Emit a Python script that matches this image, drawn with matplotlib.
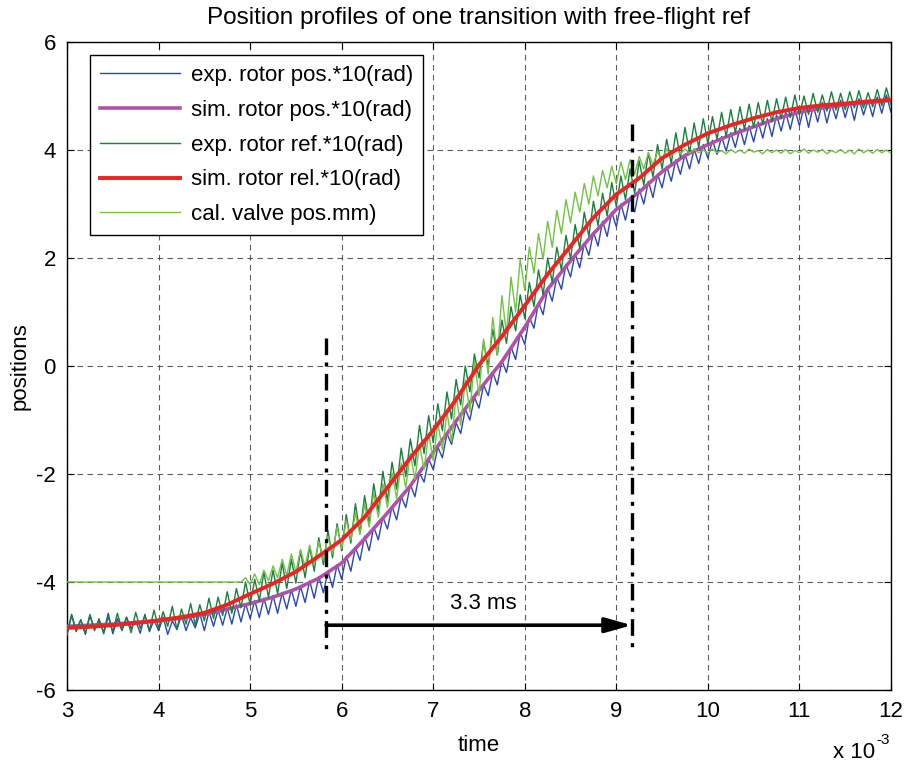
import numpy as np
import matplotlib
matplotlib.use("Agg")
import matplotlib.pyplot as plt

plt.rcParams['font.family'] = ['Liberation Sans', 'DejaVu Sans']
plt.rcParams['axes.unicode_minus'] = False

# time axis in units of 1e-3 s
t_sim = np.round(np.arange(3.0, 12.001, 0.25), 2)
t_lo = np.round(np.arange(3.0, 12.001, 0.1), 2)
t_hi = np.round(np.arange(3.05, 11.96, 0.1), 2)

sim_pos = [-4.82, -4.80, -4.78, -4.75, -4.72, -4.67, -4.60, -4.50, -4.40, -4.28,
           -4.13, -3.93, -3.65, -3.20, -2.72, -2.22, -1.60, -1.02, -0.45, 0.08,
           0.72, 1.42, 1.95, 2.45, 2.90, 3.22, 3.60, 3.90, 4.10, 4.28,
           4.43, 4.58, 4.70, 4.78, 4.84, 4.88, 4.92]
sim_rel = [-4.85, -4.83, -4.80, -4.76, -4.71, -4.65, -4.57, -4.42, -4.22, -4.03,
           -3.81, -3.52, -3.22, -2.80, -2.25, -1.70, -1.19, -0.62, 0.02, 0.55,
           1.12, 1.70, 2.22, 2.75, 3.18, 3.48, 3.85, 4.10, 4.31, 4.46,
           4.59, 4.70, 4.78, 4.83, 4.86, 4.90, 4.93]

# experimental rotor position: lower spikes (t_lo) and upper spikes (t_hi)
exp_pos_lo = [-4.95, -4.90, -4.97, -4.88, -4.93, -4.96, -4.90, -4.86, -4.95, -4.92,
              -4.90, -4.97, -4.88, -4.90, -4.85, -4.90, -4.82, -4.80, -4.78, -4.74,
              -4.68, -4.66, -4.60, -4.58, -4.50, -4.45, -4.38, -4.30, -4.20, -4.10,
              -3.95, -3.80, -3.60, -3.42, -3.22, -3.02, -2.85, -2.62, -2.42, -2.15,
              -1.92, -1.70, -1.45, -1.25, -1.00, -0.78, -0.55, -0.35, -0.12, 0.12,
              0.40, 0.70, 0.95, 1.20, 1.42, 1.65, 1.82, 2.05, 2.22, 2.40,
              2.58, 2.70, 2.85, 3.00, 3.12, 3.30, 3.42, 3.55, 3.65, 3.75,
              3.85, 3.92, 3.98, 4.05, 4.10, 4.15, 4.22, 4.25, 4.35, 4.38,
              4.45, 4.42, 4.52, 4.50, 4.58, 4.60, 4.55, 4.65, 4.62, 4.68, 4.70]
exp_pos_hi = [-4.60, -4.70, -4.62, -4.72, -4.58, -4.68, -4.65, -4.72, -4.60, -4.70,
              -4.65, -4.72, -4.62, -4.66, -4.58, -4.55, -4.52, -4.48, -4.42, -4.40,
              -4.34, -4.30, -4.25, -4.20, -4.14, -4.08, -3.98, -3.90, -3.80, -3.68,
              -3.52, -3.36, -3.15, -2.98, -2.80, -2.60, -2.42, -2.20, -1.98, -1.72,
              -1.50, -1.25, -1.05, -0.80, -0.58, -0.35, -0.12, 0.10, 0.35, 0.62,
              0.90, 1.18, 1.45, 1.65, 1.88, 2.08, 2.28, 2.48, 2.68, 2.85,
              3.00, 3.12, 3.28, 3.42, 3.55, 3.70, 3.82, 3.92, 4.02, 4.10,
              4.18, 4.25, 4.32, 4.40, 4.45, 4.52, 4.58, 4.65, 4.70, 4.75,
              4.80, 4.82, 4.88, 4.85, 4.92, 4.90, 4.95, 4.92, 4.98, 5.02]

# experimental rotor reference
exp_ref_lo = [-4.98, -4.92, -4.95, -4.90, -4.96, -4.92, -4.88, -4.94, -4.86, -4.90,
              -4.85, -4.82, -4.88, -4.78, -4.80, -4.72, -4.68, -4.62, -4.58, -4.48,
              -4.42, -4.35, -4.28, -4.22, -4.12, -4.02, -3.92, -3.80, -3.68, -3.55,
              -3.42, -3.28, -3.10, -2.92, -2.70, -2.50, -2.28, -2.05, -1.85, -1.62,
              -1.42, -1.20, -0.98, -0.72, -0.48, -0.22, 0.00, 0.20, 0.42, 0.65,
              0.88, 1.10, 1.32, 1.55, 1.78, 1.98, 2.18, 2.40, 2.60, 2.78,
              2.95, 3.08, 3.20, 3.35, 3.50, 3.65, 3.75, 3.86, 3.95, 4.05,
              4.12, 4.20, 4.25, 4.32, 4.38, 4.42, 4.48, 4.52, 4.58, 4.60,
              4.65, 4.66, 4.70, 4.72, 4.74, 4.75, 4.78, 4.78, 4.80, 4.82, 4.84]
exp_ref_hi = [-4.62, -4.70, -4.60, -4.68, -4.64, -4.58, -4.66, -4.56, -4.62, -4.52,
              -4.55, -4.45, -4.50, -4.40, -4.42, -4.30, -4.28, -4.18, -4.12, -4.00,
              -3.95, -3.82, -3.78, -3.65, -3.58, -3.42, -3.35, -3.18, -3.05, -2.92,
              -2.75, -2.55, -2.40, -2.18, -1.95, -1.78, -1.52, -1.35, -1.10, -0.92,
              -0.70, -0.48, -0.25, 0.00, 0.22, 0.45, 0.68, 0.85, 1.10, 1.32,
              1.55, 1.78, 2.00, 2.20, 2.42, 2.62, 2.85, 3.05, 3.20, 3.40,
              3.52, 3.65, 3.80, 3.95, 4.10, 4.20, 4.32, 4.42, 4.50, 4.58,
              4.62, 4.70, 4.75, 4.80, 4.85, 4.88, 4.92, 4.95, 4.98, 5.02,
              5.00, 5.05, 5.02, 5.08, 5.05, 5.08, 5.10, 5.06, 5.12, 5.15]

# calculated valve position
valve_lo = [-4.00] * 20 + [
              -4.05, -4.05, -3.98, -3.92, -3.88, -3.82, -3.72, -3.68, -3.60, -3.48,
              -3.38, -3.22, -3.12, -2.98, -2.80, -2.62, -2.45, -2.25, -2.10, -1.92,
              -1.75, -1.55, -1.40, -1.10, -0.85, -0.55, -0.15, 0.20, 0.60, 1.00,
              1.40, 1.72, 1.98, 2.20, 2.45, 2.65, 2.85, 3.00, 3.15, 3.30,
              3.38, 3.45, 3.55, 3.65, 3.72, 3.80, 3.88, 3.93, 3.94, 3.95,
              3.94, 3.95, 3.93, 3.95, 3.94, 3.96, 3.93, 3.95, 3.94, 3.93,
              3.95, 3.94, 3.96, 3.93, 3.95, 3.94, 3.93, 3.95, 3.94, 3.95, 3.94]
valve_hi = [-4.00] * 19 + [
              -3.92, -3.85, -3.78, -3.70, -3.58, -3.48, -3.40, -3.32, -3.25, -3.15,
              -2.98, -2.85, -2.72, -2.55, -2.35, -2.18, -1.98, -1.80, -1.62, -1.45,
              -1.25, -1.05, -0.85, -0.55, -0.25, 0.10, 0.50, 0.90, 1.30, 1.65,
              1.98, 2.20, 2.45, 2.68, 2.88, 3.08, 3.22, 3.38, 3.52, 3.62,
              3.70, 3.78, 3.82, 3.88, 3.95, 3.98, 4.02, 4.03, 4.02, 4.01,
              4.00, 4.02, 3.99, 4.01, 4.00, 4.02, 3.99, 4.01, 4.00, 4.01,
              3.99, 4.02, 4.00, 4.01, 3.99, 4.01, 4.00, 4.02, 4.00, 4.01, 4.00]

labels = ['exp. rotor pos.*10(rad)', 'sim. rotor pos.*10(rad)',
          'exp. rotor ref.*10(rad)', 'sim. rotor rel.*10(rad)',
          'cal. valve pos.mm)']

# markers of the transition time
t_start = 5.83
t_end = 9.17
duration_label = '3.3 ms'


def spikes(lo, hi):
    x = np.empty(len(t_lo) + len(t_hi))
    y = np.empty_like(x)
    x[0::2] = t_lo
    x[1::2] = t_hi
    y[0::2] = lo
    y[1::2] = hi
    return x, y


FS = 16

fig = plt.figure(figsize=(9.06, 7.67), dpi=100)
ax = fig.add_axes([0.074, 0.1004, 0.9094, 0.8448])

x, y = spikes(exp_pos_lo, exp_pos_hi)
ax.plot(x, y, color='#2a48a8', lw=1.0, label=labels[0], zorder=2)
ax.plot(t_sim, sim_pos, color='#b050a8', lw=2.6, label=labels[1], zorder=3)
x, y = spikes(exp_ref_lo, exp_ref_hi)
ax.plot(x, y, color='#16803c', lw=1.0, label=labels[2], zorder=4)
x, y = spikes(valve_lo, valve_hi)
ax.plot(x, y, color='#72c244', lw=1.0, label=labels[4], zorder=5)
ax.plot(t_sim, sim_rel, color='#ee2222', lw=2.8, label=labels[3], zorder=6)

dashdot = (0, (5, 2.2, 1.2, 2.2))
ax.plot([t_start, t_start], [0.52, -5.35], color='black', lw=2.4, ls=dashdot, zorder=7)
ax.plot([t_end, t_end], [4.48, -5.22], color='black', lw=2.4, ls=dashdot, zorder=7)
ax.annotate('', xy=(t_end, -4.8), xytext=(t_start, -4.8),
            arrowprops=dict(arrowstyle='-|>,head_length=1.6,head_width=0.45',
                            color='black', lw=2.6, shrinkA=0, shrinkB=0), zorder=8)
ax.text((t_start + t_end) / 2 + 0.05, -4.4, duration_label, ha='center', va='center',
        fontsize=FS)

ax.set_xlim(3, 12)
ax.set_ylim(-6, 6)
ax.set_xticks(range(3, 13))
ax.set_yticks(range(-6, 7, 2))
ax.tick_params(direction='in', top=True, right=True, labelsize=FS, length=5, pad=8)
ax.grid(True, color='#333333', ls=(0, (5, 4)), lw=0.8, alpha=0.8)
for s in ax.spines.values():
    s.set_linewidth(1.0)

ax.set_title('Position profiles of one transition with free-flight ref', fontsize=17.5, pad=13)
ax.set_xlabel('time', fontsize=FS, labelpad=9)
ax.set_ylabel('positions', fontsize=FS, labelpad=4)
# axis multiplier, drawn with a plain hyphen like the original
fig.text(0.966, 0.012, 'x 10', fontsize=FS, ha='right')
fig.text(0.967, 0.030, '-3', fontsize=11, ha='left')

h, lab = ax.get_legend_handles_labels()
hd = {l: hh for hh, l in zip(h, lab)}
leg = ax.legend([hd[l] for l in labels], labels, loc='upper left',
                bbox_to_anchor=(0.028, 0.98), borderaxespad=0, fontsize=FS,
                fancybox=False, framealpha=1, edgecolor='black', handlelength=3.6,
                borderpad=0.45, labelspacing=0.62, handletextpad=0.5)
leg.get_frame().set_linewidth(1.0)
leg.set_zorder(10)

fig.savefig('out.png', dpi=100)
